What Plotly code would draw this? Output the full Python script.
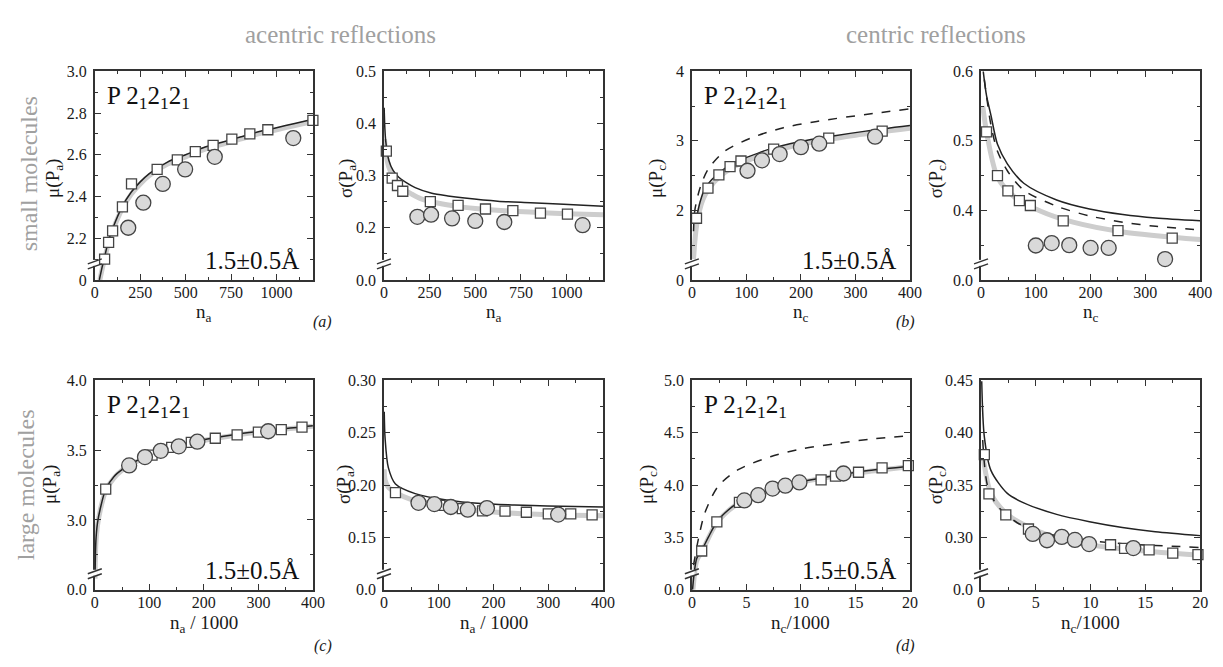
import plotly.graph_objects as go

FONT = "Liberation Serif, Times New Roman, serif"
W, H = 1223, 667

# ---------------- data ----------------
# (a) small molecules, acentric, mu
a1_sq_x = [54, 76, 98, 152, 202, 343, 454, 553, 651, 754, 853, 952, 1200]
a1_sq_y = [2.10, 2.18, 2.235, 2.35, 2.46, 2.53, 2.575, 2.615, 2.645, 2.675, 2.70, 2.72, 2.765]
a1_ci_x = [184, 267, 374, 497, 660, 1092]
a1_ci_y = [2.25, 2.37, 2.46, 2.53, 2.59, 2.68]
a1_solid_x = [25, 40, 54, 76, 100, 150, 200, 250, 300, 400, 500, 600, 700, 800, 900, 1000, 1100, 1200]
a1_solid_y = [2.0, 2.06, 2.11, 2.19, 2.25, 2.35, 2.42, 2.47, 2.51, 2.565, 2.60, 2.635, 2.66, 2.685, 2.71, 2.73, 2.75, 2.77]
a1_gray_x = [28, 40, 54, 76, 100, 150, 200, 250, 300, 400, 500, 600, 700, 800, 900, 1000, 1100, 1200]
a1_gray_y = [2.0, 2.05, 2.10, 2.18, 2.24, 2.34, 2.41, 2.46, 2.50, 2.555, 2.59, 2.625, 2.65, 2.675, 2.70, 2.72, 2.74, 2.76]

# (a) small molecules, acentric, sigma
a2_sq_x = [13, 45, 74, 103, 254, 406, 556, 706, 857, 1005]
a2_sq_y = [0.347, 0.295, 0.281, 0.270, 0.250, 0.243, 0.236, 0.233, 0.228, 0.226]
a2_ci_x = [183, 258, 373, 500, 659, 1088]
a2_ci_y = [0.221, 0.225, 0.218, 0.213, 0.211, 0.205]
a2_solid_x = [1, 5, 10, 27, 50, 81, 120, 171, 262, 350, 442, 623, 803, 984, 1200]
a2_solid_y = [0.43, 0.39, 0.365, 0.329, 0.31, 0.297, 0.287, 0.277, 0.266, 0.261, 0.257, 0.251, 0.248, 0.245, 0.241]
a2_gray_x = [3, 10, 25, 50, 75, 100, 150, 200, 300, 400, 500, 600, 800, 1000, 1200]
a2_gray_y = [0.37, 0.345, 0.318, 0.298, 0.285, 0.276, 0.265, 0.256, 0.247, 0.241, 0.237, 0.234, 0.230, 0.227, 0.225]

# (b) small molecules, centric, mu
b1_sq_x = [8.5, 29.5, 49.5, 70, 90, 150, 251, 349]
b1_sq_y = [1.887, 2.32, 2.51, 2.63, 2.71, 2.88, 3.04, 3.14]
b1_ci_x = [102, 128.5, 161, 200, 233.5, 336]
b1_ci_y = [2.57, 2.72, 2.81, 2.91, 2.96, 3.06]
b1_solid_x = [8.5, 15, 23.5, 35, 47.6, 60, 78, 100, 138, 198.6, 259, 319, 400]
b1_solid_y = [1.89, 2.12, 2.31, 2.43, 2.52, 2.6, 2.69, 2.76, 2.87, 2.99, 3.07, 3.14, 3.22]
b1_dash_x = [3, 5.4, 14.5, 29.5, 60, 108, 168, 229, 319, 400]
b1_dash_y = [1.7, 2.0, 2.31, 2.59, 2.85, 3.04, 3.19, 3.28, 3.38, 3.46]
b1_gray_x = [3, 6, 10, 20, 30, 50, 75, 100, 150, 200, 300, 400]
b1_gray_y = [1.3, 1.6, 1.85, 2.15, 2.3, 2.48, 2.62, 2.71, 2.85, 2.95, 3.08, 3.18]

# (b) small molecules, centric, sigma
b2_sq_x = [10, 30, 49, 70, 90, 150, 250, 349]
b2_sq_y = [0.513, 0.450, 0.428, 0.414, 0.407, 0.385, 0.371, 0.360]
b2_ci_x = [100, 129, 161, 200, 233, 336]
b2_ci_y = [0.3495, 0.353, 0.350, 0.346, 0.346, 0.330]
b2_solid_x = [4, 10, 18, 30, 48, 78, 138, 198, 259, 319, 400]
b2_solid_y = [0.6, 0.565, 0.537, 0.495, 0.467, 0.439, 0.415, 0.402, 0.394, 0.389, 0.385]
b2_dash_x = [6, 18, 30, 48, 78, 138, 198, 259, 319, 400]
b2_dash_y = [0.588, 0.523, 0.485, 0.457, 0.429, 0.406, 0.392, 0.383, 0.377, 0.372]
b2_gray_x = [3, 12, 30, 60, 108, 168, 259, 400]
b2_gray_y = [0.55, 0.504, 0.448, 0.420, 0.399, 0.383, 0.369, 0.358]

# (c) large molecules, acentric, mu
c1_sq_x = [20, 105, 141, 177, 221, 261, 300, 342, 380]
c1_sq_y = [3.22, 3.464, 3.52, 3.556, 3.585, 3.609, 3.628, 3.647, 3.664]
c1_ci_x = [63, 92, 121, 154, 188, 318]
c1_ci_y = [3.39, 3.45, 3.495, 3.527, 3.56, 3.635]
c1_solid_x = [0.5, 2, 5, 10, 20, 35, 50, 75, 100, 135, 195, 255, 316, 400]
c1_solid_y = [2.6, 2.85, 2.98, 3.08, 3.22, 3.31, 3.36, 3.42, 3.46, 3.51, 3.57, 3.61, 3.64, 3.675]
c1_gray_x = [0.5, 2, 5, 10, 20, 35, 50, 75, 100, 135, 195, 255, 316, 400]
c1_gray_y = [2.58, 2.83, 2.96, 3.07, 3.21, 3.30, 3.355, 3.415, 3.455, 3.505, 3.565, 3.605, 3.635, 3.67]

# (c) large molecules, acentric, sigma
c2_sq_x = [21, 102, 143, 180, 221, 260, 300, 341, 380]
c2_sq_y = [0.1927, 0.1806, 0.1774, 0.1753, 0.175, 0.174, 0.1725, 0.1725, 0.1715]
c2_ci_x = [63, 92, 122, 153, 188, 318]
c2_ci_y = [0.183, 0.1818, 0.179, 0.1765, 0.178, 0.1718]
c2_solid_x = [0.5, 2, 8, 21, 57, 117, 177, 238, 298, 400]
c2_solid_y = [0.27, 0.245, 0.2166, 0.201, 0.1918, 0.1855, 0.1824, 0.181, 0.180, 0.179]
c2_gray_x = [0.5, 2, 8, 21, 50, 87, 177, 280, 400]
c2_gray_y = [0.215, 0.205, 0.198, 0.193, 0.186, 0.182, 0.1753, 0.172, 0.1706]

# (d) large molecules, centric, mu
d1_sq_x = [0.9, 2.29, 4.36, 11.85, 13.17, 15.28, 17.44, 19.85]
d1_sq_y = [3.37, 3.649, 3.834, 4.05, 4.085, 4.122, 4.163, 4.185]
d1_ci_x = [4.81, 6.08, 7.4, 8.57, 9.86, 13.9]
d1_ci_y = [3.853, 3.903, 3.966, 3.994, 4.025, 4.11]
d1_solid_x = [0.06, 0.2, 0.45, 0.9, 1.5, 2.29, 3, 4.2, 5.5, 7.2, 10.2, 13.2, 16.2, 20]
d1_solid_y = [3.0, 3.15, 3.30, 3.376, 3.5, 3.65, 3.73, 3.83, 3.89, 3.956, 4.034, 4.09, 4.138, 4.18]
d1_dash_x = [0.15, 0.6, 1.2, 2.4, 4.2, 7.2, 10.2, 13.2, 16.2, 20]
d1_dash_y = [3.235, 3.486, 3.737, 3.987, 4.144, 4.27, 4.348, 4.395, 4.436, 4.47]
d1_gray_x = [0.1, 0.45, 0.9, 2.29, 4.2, 7.2, 10.2, 13.2, 16.2, 20]
d1_gray_y = [3.0, 3.28, 3.36, 3.64, 3.82, 3.95, 4.03, 4.085, 4.13, 4.175]

# (d) large molecules, centric, sigma
d2_sq_x = [0.3, 0.72, 2.26, 4.33, 11.82, 13.1, 15.34, 17.5, 19.8]
d2_sq_y = [0.379, 0.3415, 0.3215, 0.308, 0.293, 0.2895, 0.288, 0.285, 0.2835]
d2_ci_x = [4.72, 6.02, 7.37, 8.57, 9.86, 13.9]
d2_ci_y = [0.3033, 0.2973, 0.3005, 0.2976, 0.2936, 0.2898]
d2_solid_x = [0.06, 0.3, 0.9, 2.4, 3.9, 6.9, 9.9, 12.9, 15.9, 20]
d2_solid_y = [0.449, 0.396, 0.364, 0.342, 0.333, 0.322, 0.315, 0.3095, 0.3055, 0.3017]
d2_dash_x = [0.15, 0.6, 1.5, 3.3, 5.4, 8.4, 12.9, 15.9, 20]
d2_dash_y = [0.393, 0.349, 0.33, 0.314, 0.3055, 0.2986, 0.294, 0.2923, 0.2904]
d2_gray_x = [0.15, 0.9, 2.4, 5.4, 8.4, 12.9, 20]
d2_gray_y = [0.38, 0.342, 0.322, 0.305, 0.2955, 0.289, 0.283]

# tick labels
a1_yticks = [2.0, 2.2, 2.4, 2.6, 2.8, 3.0]; a1_ylabels = ["0", "2.2", "2.4", "2.6", "2.8", "3.0"]
a2_yticks = [0.1, 0.2, 0.3, 0.4, 0.5];      a2_ylabels = ["0.0", "0.2", "0.3", "0.4", "0.5"]
b1_yticks = [1, 2, 3, 4];                    b1_ylabels = ["0", "2", "3", "4"]
b2_yticks = [0.3, 0.4, 0.5, 0.6];            b2_ylabels = ["0.0", "0.4", "0.5", "0.6"]
c1_yticks = [2.5, 3.0, 3.5, 4.0];            c1_ylabels = ["0.0", "3.0", "3.5", "4.0"]
c2_yticks = [0.10, 0.15, 0.20, 0.25, 0.30];  c2_ylabels = ["0.0", "0.15", "0.20", "0.25", "0.30"]
d1_yticks = [3.0, 3.5, 4.0, 4.5, 5.0];       d1_ylabels = ["0.0", "3.5", "4.0", "4.5", "5.0"]
d2_yticks = [0.25, 0.30, 0.35, 0.40, 0.45];  d2_ylabels = ["0.0", "0.30", "0.35", "0.40", "0.45"]

# ---------------- panel layout ----------------
col_px = [(92, 313), (385, 607), (697, 918), (990, 1212)]
row_px = [(65, 279), (382, 597)]

panels = [
    dict(c=0, r=0, xr=[0, 1200], xd=250, xm=125, yr=[2.0, 3.0], yt=a1_yticks, yl=a1_ylabels, ym=0.1, ytx=50,
         xt="n<sub>a</sub>", ytl="μ(P<sub>a</sub>)", sq=(a1_sq_x, a1_sq_y), ci=(a1_ci_x, a1_ci_y),
         solid=(a1_solid_x, a1_solid_y), dash=None, gray=(a1_gray_x, a1_gray_y), grp=True),
    dict(c=1, r=0, xr=[0, 1200], xd=250, xm=125, yr=[0.1, 0.5], yt=a2_yticks, yl=a2_ylabels, ym=0.05, ytx=347,
         xt="n<sub>a</sub>", ytl="σ(P<sub>a</sub>)", sq=(a2_sq_x, a2_sq_y), ci=(a2_ci_x, a2_ci_y),
         solid=(a2_solid_x, a2_solid_y), dash=None, gray=(a2_gray_x, a2_gray_y), grp=False),
    dict(c=2, r=0, xr=[0, 400], xd=100, xm=50, yr=[1, 4], yt=b1_yticks, yl=b1_ylabels, ym=0.5, ytx=661,
         xt="n<sub>c</sub>", ytl="μ(P<sub>c</sub>)", sq=(b1_sq_x, b1_sq_y), ci=(b1_ci_x, b1_ci_y),
         solid=(b1_solid_x, b1_solid_y), dash=(b1_dash_x, b1_dash_y), gray=(b1_gray_x, b1_gray_y), grp=True),
    dict(c=3, r=0, xr=[0, 400], xd=100, xm=50, yr=[0.3, 0.6], yt=b2_yticks, yl=b2_ylabels, ym=0.05, ytx=945,
         xt="n<sub>c</sub>", ytl="σ(P<sub>c</sub>)", sq=(b2_sq_x, b2_sq_y), ci=(b2_ci_x, b2_ci_y),
         solid=(b2_solid_x, b2_solid_y), dash=(b2_dash_x, b2_dash_y), gray=(b2_gray_x, b2_gray_y), grp=False),
    dict(c=0, r=1, xr=[0, 400], xd=100, xm=50, yr=[2.5, 4.0], yt=c1_yticks, yl=c1_ylabels, ym=0.25, ytx=47,
         xt="n<sub>a</sub> / 1000", ytl="μ(P<sub>a</sub>)", sq=(c1_sq_x, c1_sq_y), ci=(c1_ci_x, c1_ci_y),
         solid=(c1_solid_x, c1_solid_y), dash=None, gray=(c1_gray_x, c1_gray_y), grp=True),
    dict(c=1, r=1, xr=[0, 400], xd=100, xm=50, yr=[0.10, 0.30], yt=c2_yticks, yl=c2_ylabels, ym=0.025, ytx=345,
         xt="n<sub>a</sub> / 1000", ytl="σ(P<sub>a</sub>)", sq=(c2_sq_x, c2_sq_y), ci=(c2_ci_x, c2_ci_y),
         solid=(c2_solid_x, c2_solid_y), dash=None, gray=(c2_gray_x, c2_gray_y), grp=False),
    dict(c=2, r=1, xr=[0, 20], xd=5, xm=2.5, yr=[3.0, 5.0], yt=d1_yticks, yl=d1_ylabels, ym=0.25, ytx=652,
         xt="n<sub>c</sub>/1000", ytl="μ(P<sub>c</sub>)", sq=(d1_sq_x, d1_sq_y), ci=(d1_ci_x, d1_ci_y),
         solid=(d1_solid_x, d1_solid_y), dash=(d1_dash_x, d1_dash_y), gray=(d1_gray_x, d1_gray_y), grp=True),
    dict(c=3, r=1, xr=[0, 20], xd=5, xm=2.5, yr=[0.25, 0.45], yt=d2_yticks, yl=d2_ylabels, ym=0.025, ytx=945,
         xt="n<sub>c</sub>/1000", ytl="σ(P<sub>c</sub>)", sq=(d2_sq_x, d2_sq_y), ci=(d2_ci_x, d2_ci_y),
         solid=(d2_solid_x, d2_solid_y), dash=(d2_dash_x, d2_dash_y), gray=(d2_gray_x, d2_gray_y), grp=False),
]

fig = go.Figure()
layout = {}
shapes = []
annotations = []
AX = "#333333"
TXT = "#1a1a1a"


def px_x(v):
    return v / W


def px_y(v):
    return 1 - v / H


def note(text, x, y, size, color=TXT, angle=0, xanchor="center", yanchor="middle"):
    return dict(text=text, x=px_x(x), y=px_y(y), xref="paper", yref="paper", showarrow=False,
                xanchor=xanchor, yanchor=yanchor, textangle=angle,
                font=dict(family=FONT, size=size, color=color))


for i, p in enumerate(panels, start=1):
    xa = "x" if i == 1 else f"x{i}"
    ya = "y" if i == 1 else f"y{i}"
    xl = "xaxis" if i == 1 else f"xaxis{i}"
    yl = "yaxis" if i == 1 else f"yaxis{i}"
    cx0, cx1 = col_px[p["c"]]
    ry0, ry1 = row_px[p["r"]]
    common = dict(showgrid=False, zeroline=False, showline=True, linecolor=AX, linewidth=1.5,
                  mirror="allticks", ticks="inside", ticklen=6, tickwidth=1.2, tickcolor=AX,
                  tickfont=dict(family=FONT, size=16, color=TXT))
    layout[xl] = dict(common, domain=[px_x(cx0), px_x(cx1)], anchor=ya, range=p["xr"],
                      tickmode="linear", tick0=0, dtick=p["xd"], ticklabelstandoff=-3,
                      minor=dict(ticks="inside", ticklen=3, tickcolor=AX, dtick=p["xm"], tick0=0))
    layout[yl] = dict(common, domain=[px_y(ry1), px_y(ry0)], anchor=xa, range=p["yr"],
                      tickmode="array", tickvals=p["yt"], ticktext=p["yl"], ticklabelstandoff=3,
                      minor=dict(ticks="inside", ticklen=3, tickcolor=AX, dtick=p["ym"], tick0=p["yr"][0]))

    gx, gy = p["gray"]
    fig.add_trace(go.Scatter(x=gx, y=gy, mode="lines", xaxis=xa, yaxis=ya, showlegend=False,
                             line=dict(color="#cdcdcd", width=5, shape="spline", smoothing=0.8)))
    sx, sy = p["solid"]
    fig.add_trace(go.Scatter(x=sx, y=sy, mode="lines", xaxis=xa, yaxis=ya, showlegend=False,
                             line=dict(color="#222", width=1.5, shape="spline", smoothing=0.8)))
    if p["dash"] is not None:
        dx, dy = p["dash"]
        fig.add_trace(go.Scatter(x=dx, y=dy, mode="lines", xaxis=xa, yaxis=ya, showlegend=False,
                                 line=dict(color="#222", width=1.5, dash="dash", shape="spline", smoothing=0.8)))
    qx, qy = p["sq"]
    fig.add_trace(go.Scatter(x=qx, y=qy, mode="markers", xaxis=xa, yaxis=ya, showlegend=False, cliponaxis=False,
                             marker=dict(symbol="square", size=10, color="white", line=dict(color="#444", width=1.3))))
    ox, oy = p["ci"]
    fig.add_trace(go.Scatter(x=ox, y=oy, mode="markers", xaxis=xa, yaxis=ya, showlegend=False, cliponaxis=False,
                             marker=dict(symbol="circle", size=15, color="#d9d9d9", line=dict(color="#444", width=1.3))))

    # axis-break mark on the left axis
    xa_p = px_x(cx0)
    ya_p = px_y(ry1)
    shapes.append(dict(type="rect", xref="paper", yref="paper", xsizemode="pixel", ysizemode="pixel",
                       xanchor=xa_p, yanchor=ya_p, x0=-3, x1=3, y0=14, y1=20,
                       fillcolor="white", line=dict(width=0), layer="above"))
    for off in (13, 18):
        shapes.append(dict(type="line", xref="paper", yref="paper", xsizemode="pixel", ysizemode="pixel",
                           xanchor=xa_p, yanchor=ya_p, x0=-7, x1=7, y0=off - 2, y1=off + 3,
                           line=dict(color=AX, width=1.5), layer="above"))

    # axis titles
    xt_y = 313 if p["r"] == 0 else 632
    annotations.append(note(p["xt"], (cx0 + cx1) / 2, xt_y, 19))
    yt_y = 175 if p["r"] == 0 else 489
    annotations.append(note(p["ytl"], p["ytx"], yt_y, 19, angle=-90))

    if p["grp"]:
        annotations.append(note("P 2<sub>1</sub>2<sub>1</sub>2<sub>1</sub>", cx0 + 10, ry0 + 9, 25,
                                color="#111", xanchor="left", yanchor="top"))
        annotations.append(note("1.5±0.5Å", cx1 - 12, ry1 - 20, 25, color="#111", xanchor="right"))

# headers and side labels
GRAY = "#a0a0a0"
annotations += [
    note("acentric reflections", 341, 27, 25, color=GRAY),
    note("centric reflections", 944, 27, 25, color=GRAY),
    note("small molecules", 25, 170, 24, color=GRAY, angle=-90),
    note("large molecules", 22, 489, 24, color=GRAY, angle=-90),
    note("<i>(a)</i>", 323, 322, 16),
    note("<i>(b)</i>", 913, 322, 16),
    note("<i>(c)</i>", 323, 655, 16),
    note("<i>(d)</i>", 913, 655, 16),
]

fig.update_layout(width=W, height=H, margin=dict(l=0, r=0, t=0, b=0), paper_bgcolor="white",
                  plot_bgcolor="white", shapes=shapes, annotations=annotations,
                  font=dict(family=FONT, color=TXT), **layout)
fig.write_html("out.html")
